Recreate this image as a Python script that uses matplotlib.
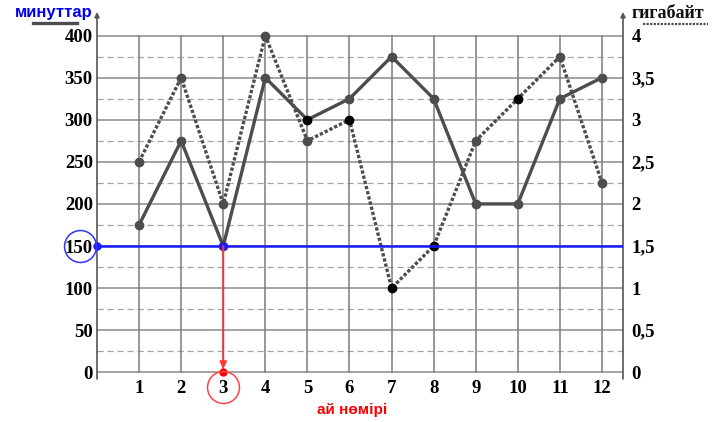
import numpy as np
import matplotlib.pyplot as plt
from matplotlib.lines import Line2D

months = [1, 2, 3, 4, 5, 6, 7, 8, 9, 10, 11, 12]
minutes = [175, 275, 150, 350, 300, 325, 375, 325, 200, 200, 325, 350]
gigabytes = [2.5, 3.5, 2, 4, 2.75, 3, 1, 1.5, 2.75, 3.25, 3.75, 2.25]
# points drawn in black instead of grey
minutes_dark = [5]
gigabytes_dark = [6, 7, 8, 10]

left_ticks = [0, 50, 100, 150, 200, 250, 300, 350, 400]
right_ticks = [0, 0.5, 1, 1.5, 2, 2.5, 3, 3.5, 4]
right_labels = ["0", "0,5", "1", "1,5", "2", "2,5", "3", "3,5", "4"]
answer_minutes = 150
answer_month = 3

W, H = 714, 422
fig = plt.figure(figsize=(W / 100, H / 100), dpi=100)
ax = fig.add_axes([97 / W, (H - 379) / H, (623 - 97) / W, (379 - 12) / H])
ax.set_xlim(0, 12.5)
ax.set_ylim(-8, 428)
for s in ax.spines.values():
    s.set_visible(False)

serif = dict(family="Liberation Serif", weight="bold", size=13.5)

# grid
for v in np.arange(0, 401, 50):
    ax.plot([0, 12.5], [v, v], color="#8a8a8a", lw=1.1, zorder=1)
for v in np.arange(25, 400, 50):
    ax.plot([0, 12.5], [v, v], color="#a5a5a5", lw=0.9, ls=(0, (5, 3)), zorder=1)
for m in months:
    ax.plot([m, m], [0, 400], color="#7a7a7a", lw=1.1, zorder=1)

# axes with arrows
for xa in (0, 12.5):
    ax.annotate("", xy=(xa, 428), xytext=(xa, -8),
                arrowprops=dict(arrowstyle="-|>", color="#555555", lw=1.2,
                                mutation_scale=7, shrinkA=0, shrinkB=0),
                annotation_clip=False)

# data lines
gb_scaled = [g * 100 for g in gigabytes]
ax.plot(months, minutes, color="#4d4d4d", lw=2.4, zorder=3)
ax.plot(months, gb_scaled, color="#4d4d4d", lw=2.4, ls=(0, (1, 0.6)), zorder=3)
for m, v in zip(months, minutes):
    c = "#000000" if m in minutes_dark else "#4d4d4d"
    ax.plot(m, v, "o", color=c, ms=6, zorder=4, clip_on=False)
for m, v in zip(months, gb_scaled):
    c = "#000000" if m in gigabytes_dark else "#4d4d4d"
    ax.plot(m, v, "o", color=c, ms=6, zorder=4, clip_on=False)

# answer marks
ax.plot([0, 12.5], [answer_minutes, answer_minutes], color="#1a1aff", lw=1.8, zorder=5)
ax.plot([0, answer_month], [answer_minutes, answer_minutes], "o", color="#1a1aff",
        ms=5, zorder=6, clip_on=False)
ax.annotate("", xy=(answer_month, 4), xytext=(answer_month, answer_minutes),
            arrowprops=dict(arrowstyle="-|>", color="#ff3333", lw=1.4,
                            mutation_scale=10, shrinkA=0, shrinkB=0), zorder=6)
ax.plot(answer_month, 0, "o", color="#ff0000", ms=5, zorder=6, clip_on=False)
ax.plot(-17 / 42, answer_minutes, "o", mfc="none", mec="#3333ff", mew=1.1,
        ms=23, clip_on=False, zorder=6)
ax.plot(answer_month, -18, "o", mfc="none", mec="#ff4444", mew=1.1,
        ms=23, clip_on=False, zorder=6)

# ticks
ax.set_xticks(months)
ax.set_xticklabels([str(m) for m in months], fontdict=serif)
ax.set_yticks(left_ticks)
ax.set_yticklabels([str(v) for v in left_ticks], fontdict=serif)
ax.tick_params(axis="x", length=0, pad=1)
ax.tick_params(axis="y", length=0, pad=3)

ax2 = ax.twinx()
ax2.set_ylim(-0.08, 4.28)
for s in ax2.spines.values():
    s.set_visible(False)
ax2.set_yticks(right_ticks)
ax2.set_yticklabels(right_labels, fontdict=serif)
ax2.tick_params(axis="y", length=0, pad=6)

# titles
fig.text(54 / W, 1 - 13 / H, "минуттар", color="#0000ee", family="Liberation Sans",
         weight="bold", size=12, ha="center", va="center")
fig.add_artist(Line2D([33 / W, 77 / W], [1 - 23 / H, 1 - 23 / H], color="#4d4d4d", lw=2.4))
fig.text(668 / W, 1 - 13 / H, "гигабайт", color="#111111", family="Liberation Serif",
         weight="bold", size=13, ha="center", va="center")
fig.add_artist(Line2D([643 / W, 708 / W], [1 - 24 / H, 1 - 24 / H], color="#4d4d4d",
                      lw=1.6, ls=(0, (1, 0.6))))
fig.text(352 / W, 1 - 410 / H, "ай нөмірі", color="#ff0000", family="Liberation Sans",
         weight="bold", size=11, ha="center", va="center")

fig.savefig("out.png", dpi=100)
